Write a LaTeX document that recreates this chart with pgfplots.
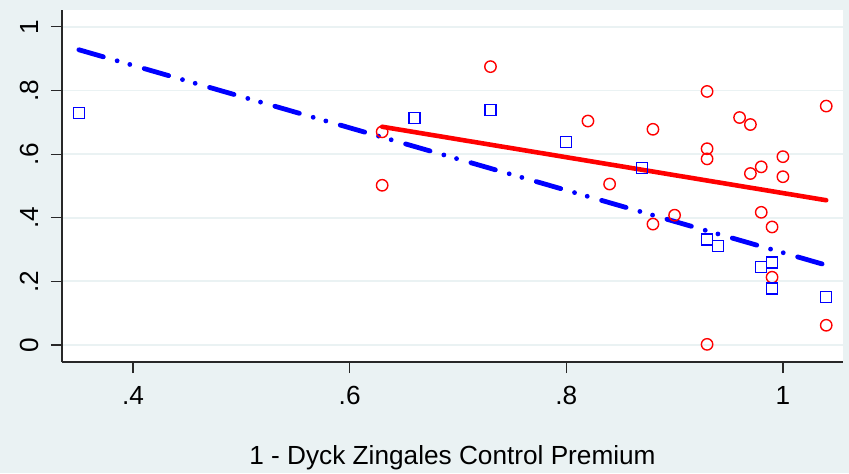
\documentclass[border=0pt]{standalone}
\usepackage{fontspec}
\setmainfont{Liberation Sans}
\usepackage{pgfplots}
\pgfplotsset{compat=1.18}
\usetikzlibrary{backgrounds}
\definecolor{bgc}{RGB}{234,242,243}
\definecolor{axc}{RGB}{40,40,40}
\begin{document}
\fontsize{13.1}{15}\selectfont
\begin{tikzpicture}
\begin{axis}[
  scale only axis,
  width=390.5pt, height=176pt,
  xmin=0.3344, xmax=1.0555, ymin=-0.0535, ymax=1.053,
  axis x line*=bottom, axis y line*=left,
  axis line style={axc, line width=0.6pt},
  axis background/.style={fill=white},
  xtick={0.4,0.6,0.8,1}, xticklabels={.4,.6,.8,1},
  ytick={0,0.2,0.4,0.6,0.8,1}, yticklabels={0,.2,.4,.6,.8,1},
  tick align=outside,
  major tick length=5.5pt,
  every tick/.style={axc, line width=0.6pt},
  ymajorgrids,
  grid style={bgc, line width=0.9pt},
  yticklabel style={rotate=90, anchor=south, inner sep=0pt, yshift=6pt},
  xticklabel style={anchor=north, inner sep=0pt, yshift=-6.5pt},
  xlabel={1 - Dyck Zingales Control Premium},
  xlabel style={at={(axis description cs:0.5,0)}, anchor=center, yshift=-48pt},
  clip=false,
]
% red circles
\addplot[only marks, mark=o, mark size=2.85pt, draw=red, mark options={line width=0.7pt}] coordinates {
(0.63,0.670) (0.63,0.502) (0.73,0.875) (0.82,0.704) (0.84,0.506) (0.88,0.678)
(0.88,0.380) (0.90,0.408) (0.93,0.797) (0.93,0.617) (0.93,0.585) (0.93,0.002)
(0.96,0.715) (0.97,0.693) (0.97,0.539) (0.98,0.560) (0.98,0.417) (0.99,0.371)
(0.99,0.213) (1.00,0.592) (1.00,0.529) (1.04,0.751) (1.04,0.062)
};
% blue squares
\addplot[only marks, mark=square, mark size=2.75pt, draw=blue, mark options={line width=0.7pt}] coordinates {
(0.35,0.730) (0.66,0.714) (0.73,0.739) (0.80,0.638) (0.87,0.556) (0.93,0.332)
(0.94,0.311) (0.98,0.246) (0.99,0.259) (0.99,0.178) (1.04,0.150)
};
% fitted lines
\addplot[red, line width=2.3pt, line cap=round, no marks] coordinates {(0.63,0.686) (1.04,0.455)};
\addplot[blue, line width=2.4pt, line cap=round, no marks,
  dash pattern=on 12.7pt off 7.2pt on 0pt off 6.6pt on 0pt off 7.5pt] coordinates {(0.35,0.928) (1.04,0.251)};
\end{axis}
\begin{scope}[on background layer]
\fill[bgc] ([xshift=-31pt,yshift=-55.5pt]current axis.south west) rectangle ([xshift=3pt,yshift=5pt]current axis.north east);
\end{scope}
\pgfresetboundingbox
\path[use as bounding box] ([xshift=-31pt,yshift=-55.5pt]current axis.south west) rectangle ([xshift=3pt,yshift=5pt]current axis.north east);
\end{tikzpicture}
\end{document}
